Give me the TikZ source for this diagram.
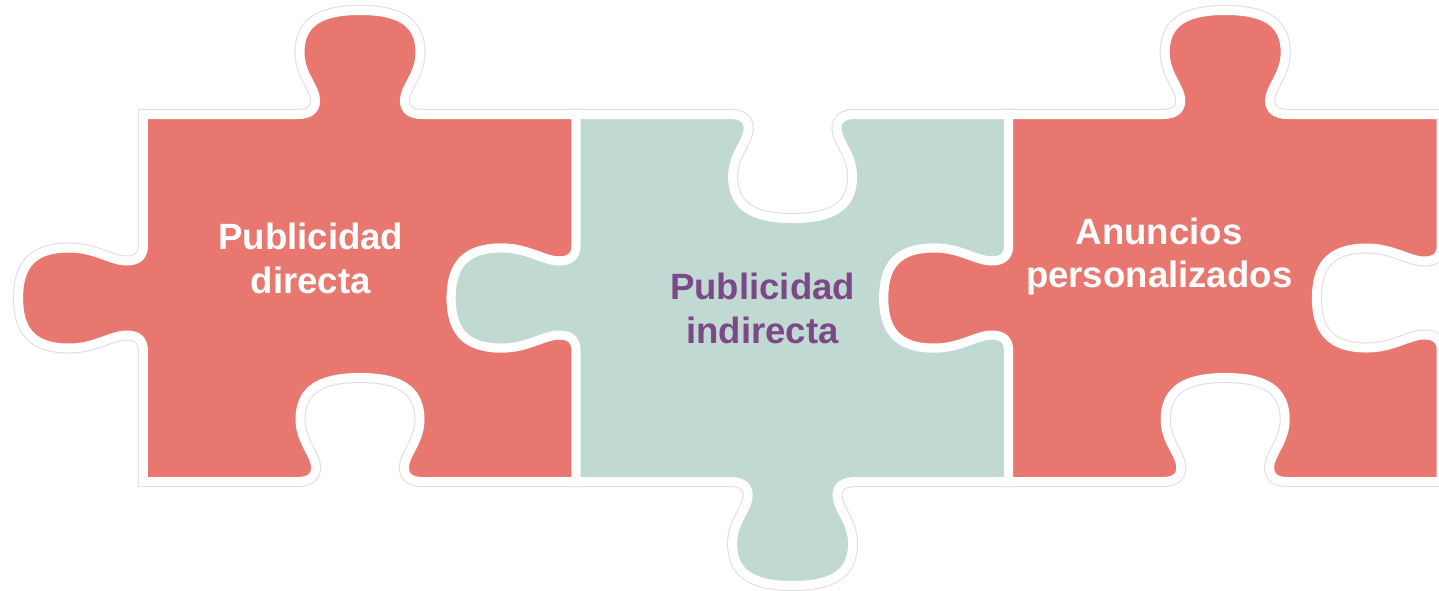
\documentclass[tikz,border=0pt]{standalone}
\usepackage{fontspec}
\setmainfont{Liberation Sans}
\usepackage{tikz}

\definecolor{piecered}{HTML}{E8776F}
\definecolor{piecegreen}{HTML}{C1D9D3}
\definecolor{textpurple}{HTML}{7B4A86}

% one tab, laid along +x and sticking out to -y
\newcommand\tabpath{-- (-52,0) .. controls (-43,0) and (-37,-4) .. (-37,-14)
  .. controls (-37,-27) and (-50,-40) .. (-50,-62)
  .. controls (-50,-93) and (-32,-104) .. (0,-104)
  .. controls (32,-104) and (50,-93) .. (50,-62)
  .. controls (50,-40) and (37,-27) .. (37,-14)
  .. controls (37,-4) and (43,0) .. (52,0)}

\newcommand\pieceone{(119.5,114.5)
  {[tab={300}{114.5}{0}{1}] \tabpath} -- (480,114.5)
  {[tab={480}{298}{90}{-1}] \tabpath} -- (480,481.5)
  {[tab={300}{481.5}{180}{-1}] \tabpath} -- (119.5,481.5)
  {[tab={119.5}{298}{270}{1}] \tabpath} -- cycle}
\newcommand\piecetwo{(480,114.5)
  {[tab={660.5}{114.5}{0}{-1}] \tabpath} -- (840.5,114.5)
  {[tab={840.5}{298}{90}{-1}] \tabpath} -- (840.5,481.5)
  {[tab={660.5}{481.5}{180}{1}] \tabpath} -- (480,481.5)
  {[tab={480}{298}{270}{1}] \tabpath} -- cycle}
\newcommand\piecethree{(840.5,114.5)
  {[tab={1021}{114.5}{0}{1}] \tabpath} -- (1201,114.5)
  {[tab={1201}{298}{90}{-1}] \tabpath} -- (1201,481.5)
  {[tab={1021}{481.5}{180}{-1}] \tabpath} -- (840.5,481.5)
  {[tab={840.5}{298}{270}{1}] \tabpath} -- cycle}

\begin{document}
\begin{tikzpicture}
[x=0.01cm,y=0.01cm,xscale=1.2,yscale=-1,
tab/.style n args={4}{shift={(#1,#2)},rotate=#3,yscale=#4},
halo/.style={draw=black!13,line width=3.15pt},
piece/.style={draw=white,line width=2.56pt},
piecetext/.style={font=\fontsize{10.4}{12.3}\selectfont\bfseries,align=center,text=white}]
\useasboundingbox (0,0) rectangle (1199.17,590);
\clip (0,0) rectangle (1199.17,590);

% thin grey rim round the outside
\draw[halo] \pieceone;
\draw[halo] \piecetwo;
\draw[halo] \piecethree;

\filldraw[piece,fill=piecered] \pieceone;
\filldraw[piece,fill=piecegreen] \piecetwo;
\filldraw[piece,fill=piecered] \piecethree;

\node[piecetext] (direct) at (259,258.5) {Publicidad\\directa};
\node[piecetext,text=textpurple] (indirect) at (635.5,308.5) {Publicidad\\indirecta};
\node[piecetext] (ads) at (966,256.5) {Anuncios\\personalizados};
\end{tikzpicture}
\end{document}
